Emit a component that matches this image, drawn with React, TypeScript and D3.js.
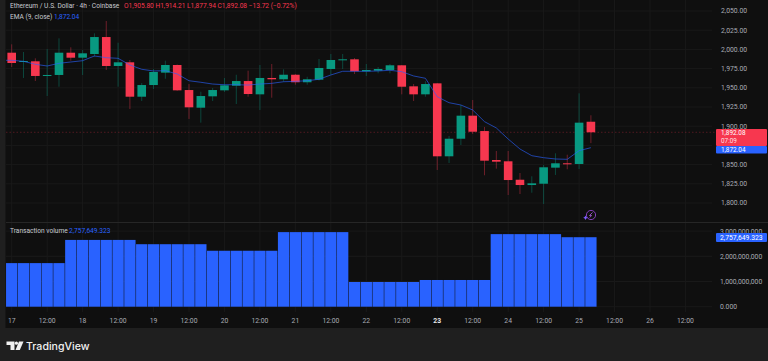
import React from "react";
import * as d3 from "d3";

const opens = [1995.7,1983.6,1984.5,1965.7,1966.7,1995.7,1989.2,1994,2016.1,1978.4,1983.2,1938.4,1953.6,1969.7,1979.7,1947.1,1924.1,1938.9,1946.7,1952.7,1958.8,1941.5,1962.8,1961.1,1967,1957.2,1960.5,1974.5,1986.2,1987.1,1971.5,1972.3,1973.2,1979.3,1951.9,1941.5,1955.8,1860.8,1883.7,1913.7,1893.7,1856,1854.3,1830.3,1823.4,1825.1,1846,1851.7,1850.8,1905.8];
const closes = [1982.3,1984.9,1965.4,1966.7,1995.7,1989.2,1994.9,2016.1,1978.4,1983.2,1938.4,1953.6,1970.6,1979.7,1946.7,1924.6,1939.3,1947.1,1953.2,1958.8,1941.9,1962.8,1961.1,1967,1957.2,1961.1,1975.8,1986.2,1987.1,1971.5,1973.2,1974.5,1979.3,1951.4,1941.5,1954.9,1860.8,1883.7,1913.7,1892.8,1855.1,1853.8,1829.9,1823.4,1825.6,1846.5,1851.7,1850.8,1904.6,1892.08];
const highs = [2006.6,1996.6,1988.4,2000.5,2014.4,2002.7,1999.2,2020.9,2037,2008.7,1986.2,1956.2,1974.5,1985.3,1980.3,1954.9,1944.9,1949.7,1962.8,1967,1972.3,1979.7,1981,1974.1,1968,1964.4,1987.5,1994,1994,1988.8,1981,1977.1,1981,1979.7,1954.9,1958.5,1956.2,1887.2,1927.6,1934.1,1899,1867.7,1867.7,1839.1,1834.8,1849.5,1864.7,1862.9,1942.8,1914.21];
const lows = [1977.1,1962.8,1958.8,1939.3,1951.4,1985.3,1966.7,1990.5,1973.2,1951.4,1922.4,1932.8,1948.4,1961.8,1946.1,1909.4,1904.6,1932.8,1944.5,1928.9,1938.4,1921.1,1937.1,1957.9,1954,1954,1959.5,1967,1974.5,1968,1965.4,1968.9,1968.9,1941.5,1932.8,1938.4,1843,1852.1,1875.5,1889.8,1836.1,1844.7,1810.4,1811.7,1813.4,1798.7,1836.5,1843.9,1844.3,1877.94];
const ema = [1985.8,1984.5,1980.6,1978.4,1981.9,1983.6,1985.3,1991.4,1989.2,1988.4,1979.7,1974.1,1971.9,1972.3,1968,1959.2,1957.2,1954.9,1954,1954,1953.6,1954.9,1955.8,1957.9,1958.4,1959.2,1961.1,1966.7,1971.5,1971.5,1971.5,1971.9,1972.8,1971,1965.4,1962.4,1938.4,1930.6,1927.6,1921.1,1905.9,1897.7,1883.3,1870.3,1861.6,1859,1857.3,1856.9,1868.1,1872.04];
const volumeGroups = [1.73e9,2.65e9,2.48e9,2.22e9,2.96e9,0.98e9,1.06e9,2.88e9,2757649323];
const volumeGroupSizes = [5,6,6,6,6,6,6,6,3];
const priceTicks = [1800,1825,1850,1875,1900,1925,1950,1975,2000,2025,2050];
const volumeTicks = [0,1e9,2e9,3e9];
const volumeTickLabels = ["0.000","1,000,000,000","2,000,000,000","3,000,000,000"];
const timeTickLabels = ["17","12:00","18","12:00","19","12:00","20","12:00","21","12:00","22","12:00","23","12:00","24","12:00","25","12:00","26","12:00"];
const timeTicksFull = timeTickLabels.map((_, i) => i * 3);
const boldTimeLabels = ["23"];
const legendTitle = "Ethereum / U.S. Dollar · 4h · Coinbase";
const legendOhlc = ["O1,905.80","H1,914.21","L1,877.94","C1,892.08","−13.72 (−0.72%)"];

const volumes: number[] = volumeGroups.flatMap((v, i) => d3.range(volumeGroupSizes[i]).map(() => v));

const FONT = "Roboto, 'Liberation Sans', sans-serif";
const UP = "#089981";
const DOWN = "#f7374f";
const BLUE = "#2962ff";
const AXIS = "#a8abb4";

export default function App() {
  const x = d3.scaleLinear().domain([0, 49]).range([11.7, 590.9]);
  const y = d3.scaleLinear().domain([1800, 2050]).range([203, 11]);
  const yv = d3.scaleLinear().domain([0, 3e9]).range([306.7, 231.1]);
  const emaLine = d3.line<number>().x((_, i) => x(i)).y((d) => y(d));
  const bw = 8.6;
  const step = x(1) - x(0);
  const last = closes[closes.length - 1];
  return (
    <svg width={768} height={361} style={{ position: "absolute", left: 0, top: 0, display: "block" }} fontFamily={FONT}>
      <rect width={768} height={361} fill="#1f1f1f" />
      <rect x={5.5} y={0} width={763} height={328} fill="#0f0f0f" />
      {priceTicks.map((t) => (
        <line key={t} x1={6} x2={712} y1={y(t)} y2={y(t)} stroke="#191919" />
      ))}
      {volumeTicks.map((t) => (
        <line key={t} x1={6} x2={712} y1={yv(t)} y2={yv(t)} stroke="#191919" />
      ))}
      {timeTicksFull.map((t) => (
        <g key={t}>
          <line x1={x(t)} x2={x(t)} y1={0} y2={222} stroke="#191919" />
          <line x1={x(t)} x2={x(t)} y1={223} y2={312} stroke="#191919" />
        </g>
      ))}
      <line x1={6} x2={768} y1={222.5} y2={222.5} stroke="#262626" />

      <line x1={6} x2={716} y1={y(last)} y2={y(last)} stroke={DOWN} strokeOpacity={0.28} strokeDasharray="1.5 2" />

      {opens.map((o, i) => {
        const c = closes[i];
        const col = c >= o ? UP : DOWN;
        const top = y(Math.max(o, c));
        const bottom = y(Math.min(o, c));
        return (
          <g key={i}>
            <line x1={x(i)} x2={x(i)} y1={y(highs[i])} y2={y(lows[i])} stroke={col} strokeOpacity={0.45} strokeWidth={0.9} />
            <rect x={x(i) - bw / 2} y={top} width={bw} height={Math.max(bottom - top, 1)} fill={col} />
          </g>
        );
      })}
      <path d={emaLine(ema) ?? ""} fill="none" stroke={BLUE} strokeWidth={0.9} opacity={0.7} />
      <path d={`M6 ${y(ema[0])}L${x(0)} ${y(ema[0])}`} stroke={BLUE} strokeWidth={0.9} opacity={0.7} />

      {volumes.map((v, i) => (
        <rect key={i} x={x(i) - step / 2 + 0.25} y={yv(v)} width={step - 0.5} height={yv(0) - yv(v)} fill={BLUE} />
      ))}

      <text x={10} y={8} fontSize={6.6} fill="#c8cad0">{legendTitle}</text>
      <text x={124} y={8} fontSize={6.6} fill={DOWN}>{legendOhlc.join(" ")}</text>
      <text x={10} y={18.5} fontSize={6.6} fill="#c8cad0">EMA (9, close)</text>
      <text x={54} y={18.5} fontSize={6.6} fill={BLUE}>1,872.04</text>
      <text x={10} y={233} fontSize={6.6} fill="#c8cad0">Transaction volume</text>
      <text x={69} y={233} fontSize={6.6} fill={BLUE}>2,757,649.323</text>

      {priceTicks.map((t) => (
        <text key={t} x={721} y={y(t) + 2.4} fontSize={6.8} fill={AXIS}>{d3.format(",.2f")(t)}</text>
      ))}
      {volumeTicks.map((t, i) => (
        <text key={t} x={720} y={yv(t) + 2.4} fontSize={6.8} fill={AXIS}>{volumeTickLabels[i]}</text>
      ))}
      <rect x={716} y={129} width={51} height={17} fill={DOWN} rx={1} />
      <rect x={716} y={146} width={51} height={7.5} fill={BLUE} rx={1} />
      <text x={721} y={135.3} fontSize={6.4} fill="#fff">{d3.format(",.2f")(last)}</text>
      <text x={721} y={143} fontSize={6.4} fill="#fff" fillOpacity={0.85}>07:09</text>
      <text x={721} y={152.3} fontSize={6.4} fill="#fff">{d3.format(",.2f")(ema[ema.length - 1])}</text>
      <rect x={716} y={233} width={51} height={9} fill={BLUE} rx={1} />
      <text x={720} y={240.2} fontSize={6.8} fill="#fff">2,757,649.323</text>

      {timeTicksFull.map((t, i) => (
        <text key={t} x={x(t)} y={323} fontSize={6.8} textAnchor="middle" fill={boldTimeLabels.includes(timeTickLabels[i]) ? "#e6e6e6" : AXIS} fontWeight={boldTimeLabels.includes(timeTickLabels[i]) ? 700 : 400}>{timeTickLabels[i]}</text>
      ))}

      <circle cx={591} cy={215} r={4.6} fill="none" stroke="#8e44c9" strokeWidth={0.9} />
      <path d="M592.5 212.5L589.5 215.5H591.5L589.8 217.5" fill="none" stroke="#b060e0" strokeWidth={0.8} />
      <path d="M585.5 215.5l.8 1.5 1.5.8-1.5.8-.8 1.5-.8-1.5-1.5-.8 1.5-.8z" fill="#7c5cff" />

      <path d="M6.5 341.5H14.5V350H10.5V345H6.5Z" fill="#f0f0f0" />
      <circle cx={16.4} cy={343.2} r={1.6} fill="#f0f0f0" />
      <path d="M19 341.5H23.5L19.8 350H15.5Z" fill="#f0f0f0" />
      <text x={26} y={350} fontSize={10.6} fontWeight={500} fontFamily="Inter, Roboto, sans-serif" fill="#f0f0f0">TradingView</text>
    </svg>
  );
}
